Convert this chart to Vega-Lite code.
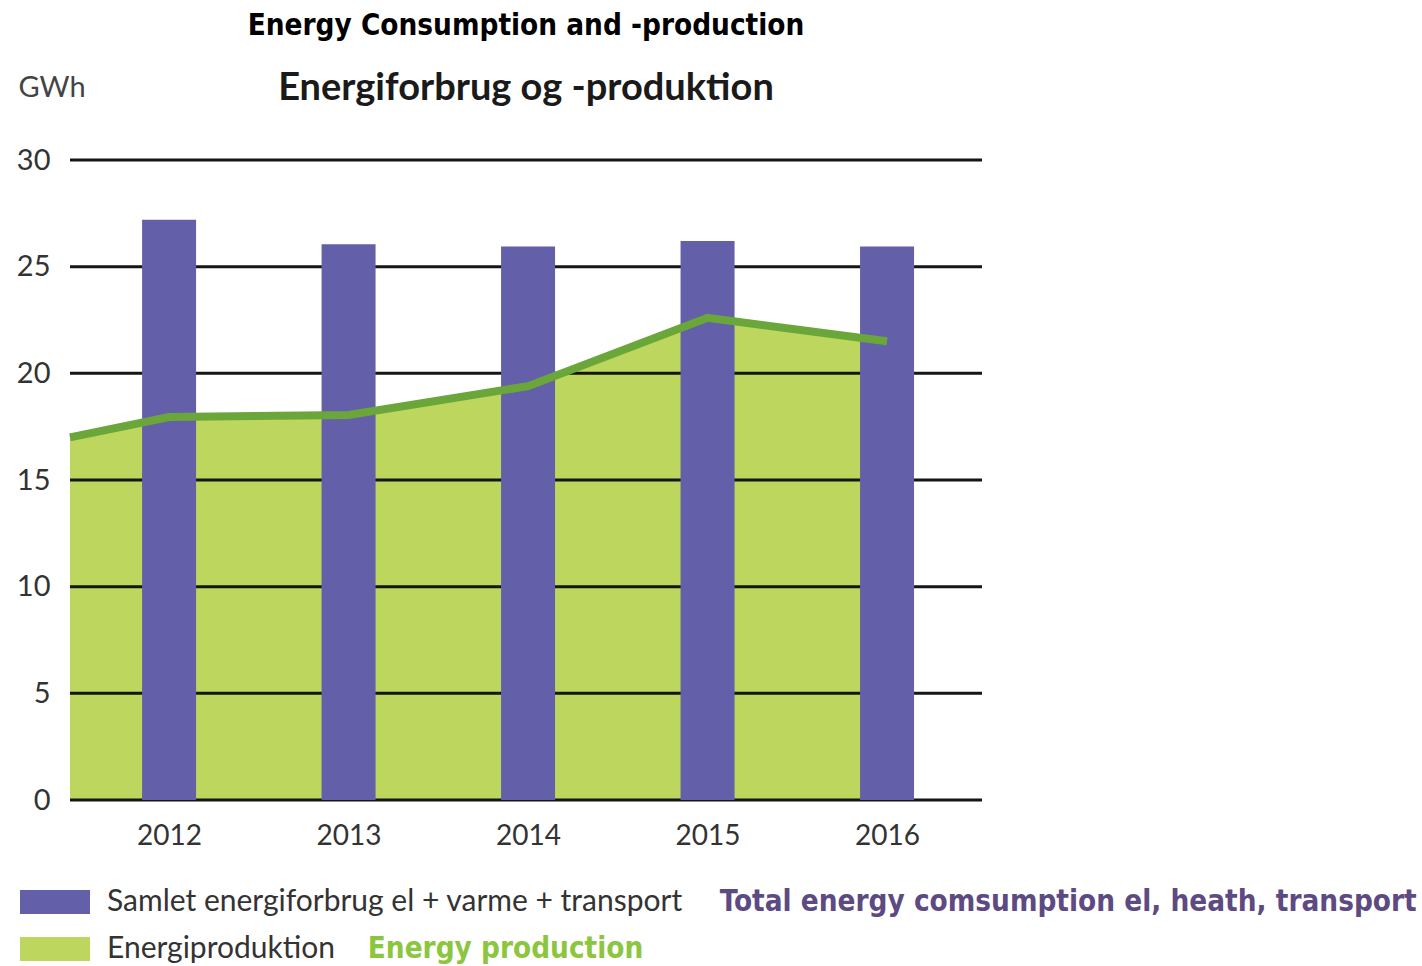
{
  "$schema": "https://vega.github.io/schema/vega-lite/v6.json",
  "width": 912,
  "height": 640,
  "autosize": {"type": "none"},
  "padding": {"left": 70, "top": 160, "right": 440, "bottom": 166},
  "background": "white",
  "title": {
    "text": "Energy Consumption and -production",
    "subtitle": "Energiforbrug og -produktion",
    "anchor": "middle",
    "frame": "group",
    "font": "DejaVu Sans Condensed",
    "fontSize": 29.4,
    "fontWeight": "bold",
    "color": "#000000",
    "subtitleFont": "Lato",
    "subtitleFontSize": 38,
    "subtitleFontWeight": "bold",
    "subtitleColor": "#1a1a1a",
    "subtitlePadding": 29,
    "offset": -36
  },
  "datasets": {
    "main": [
      {"year": 2012, "series": "Samlet energiforbrug el + varme + transport", "value": 27.2},
      {"year": 2013, "series": "Samlet energiforbrug el + varme + transport", "value": 26.05},
      {"year": 2014, "series": "Samlet energiforbrug el + varme + transport", "value": 25.95},
      {"year": 2015, "series": "Samlet energiforbrug el + varme + transport", "value": 26.2},
      {"year": 2016, "series": "Samlet energiforbrug el + varme + transport", "value": 25.95},
      {"year": 2011.448, "series": "Energiproduktion", "value": 17.0},
      {"year": 2012, "series": "Energiproduktion", "value": 17.95},
      {"year": 2013, "series": "Energiproduktion", "value": 18.05},
      {"year": 2014, "series": "Energiproduktion", "value": 19.4},
      {"year": 2015, "series": "Energiproduktion", "value": 22.6},
      {"year": 2016, "series": "Energiproduktion", "value": 21.5}
    ],
    "grid": [{"g": 0}, {"g": 5}, {"g": 10}, {"g": 15}, {"g": 20}, {"g": 25}, {"g": 30}]
  },
  "data": {"name": "main"},
  "layer": [
    {
      "transform": [{"filter": "datum.series === 'Energiproduktion'"}],
      "mark": {"type": "area", "opacity": 1, "line": false},
      "encoding": {
        "x": {
          "field": "year", "type": "quantitative",
          "scale": {"domain": [2011.448, 2016.529], "nice": false, "zero": false, "padding": 0},
          "axis": {
            "values": [2012, 2013, 2014, 2015, 2016], "format": "d", "title": null,
            "ticks": false, "domain": false, "grid": false,
            "labelFont": "Lato", "labelFontSize": 28, "labelColor": "#333333",
            "labelPadding": 22
          }
        },
        "y": {
          "field": "value", "type": "quantitative",
          "scale": {"domain": [0, 30], "nice": false},
          "axis": {
            "values": [0, 5, 10, 15, 20, 25, 30], "title": "GWh",
            "ticks": false, "domain": false, "grid": false,
            "labelFont": "Lato", "labelFontSize": 29, "labelColor": "#333333",
            "labelPadding": 20,
            "titleFont": "Lato", "titleFontSize": 29, "titleFontWeight": "normal",
            "titleColor": "#444444", "titleAngle": 0, "titleAlign": "left", "titleBaseline": "middle",
            "titleX": -52, "titleY": -73
          }
        },
        "color": {
          "field": "series", "type": "nominal",
          "scale": {
            "domain": ["Samlet energiforbrug el + varme + transport", "Energiproduktion"],
            "range": ["#645fa9", "#bdd75e"]
          },
          "legend": {
            "orient": "none", "legendX": -30, "legendY": 727, "direction": "vertical",
            "title": null,
            "symbolType": "M-2.917,-1H2.917V1H-2.917Z", "symbolSize": 576, "symbolStrokeWidth": 0,
            "symbolOpacity": 1,
            "labelFont": "Lato", "labelFontSize": 30, "labelColor": "#333333",
            "labelOffset": 37, "labelLimit": 0, "rowPadding": 17, "labelBaseline": "middle"
          }
        }
      }
    },
    {
      "data": {"name": "grid"},
      "mark": {"type": "rule", "color": "#151515", "strokeWidth": 3},
      "encoding": {"y": {"field": "g", "type": "quantitative"}}
    },
    {
      "transform": [{"filter": "datum.series !== 'Energiproduktion'"}],
      "mark": {"type": "bar", "size": 54},
      "encoding": {
        "x": {"field": "year", "type": "quantitative"},
        "y": {"field": "value", "type": "quantitative"},
        "color": {"field": "series", "type": "nominal"}
      }
    },
    {
      "transform": [{"filter": "datum.series === 'Energiproduktion'"}],
      "mark": {"type": "line", "color": "#6aa63a", "strokeWidth": 8, "strokeCap": "butt"},
      "encoding": {
        "x": {"field": "year", "type": "quantitative"},
        "y": {"field": "value", "type": "quantitative"}
      }
    },
    {
      "data": {"values": [{"label": "Total energy comsumption el, heath, transport"}]},
      "mark": {"type": "text", "align": "left", "baseline": "middle", "font": "DejaVu Sans Condensed", "fontWeight": "bold", "fontSize": 29.4, "color": "#5e4a82"},
      "encoding": {
        "x": {"datum": 2015.068, "type": "quantitative"},
        "y": {"datum": -4.78, "type": "quantitative"},
        "text": {"field": "label"}
      }
    },
    {
      "data": {"values": [{"label": "Energy production"}]},
      "mark": {"type": "text", "align": "left", "baseline": "middle", "font": "DejaVu Sans Condensed", "fontWeight": "bold", "fontSize": 29.4, "color": "#8cc63f"},
      "encoding": {
        "x": {"datum": 2013.107, "type": "quantitative"},
        "y": {"datum": -6.98, "type": "quantitative"},
        "text": {"field": "label"}
      }
    }
  ],
  "config": {"view": {"stroke": null}}
}
